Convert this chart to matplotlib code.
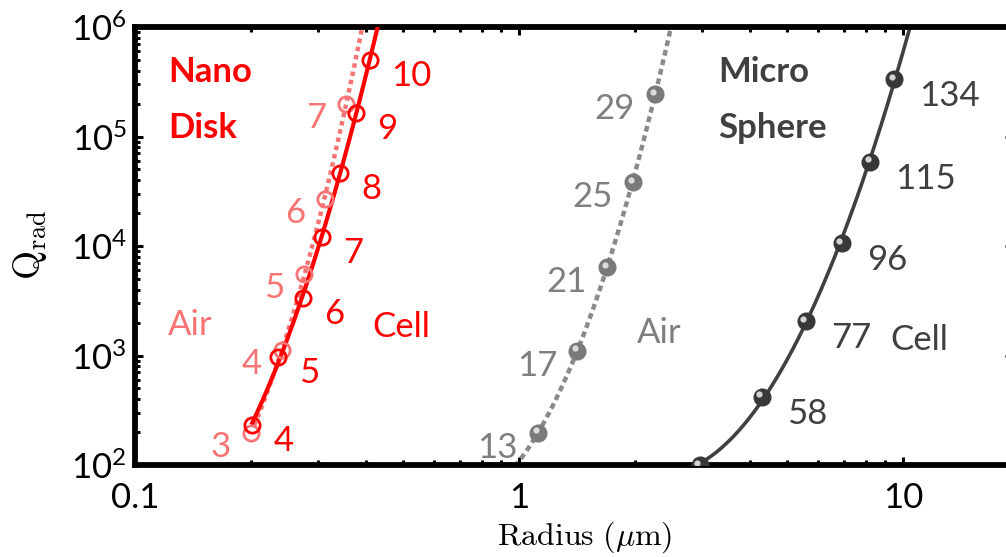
import numpy as np
import matplotlib
matplotlib.use('Agg')
import matplotlib.pyplot as plt
from matplotlib.ticker import LogLocator, FuncFormatter, NullFormatter
from matplotlib.transforms import offset_copy

plt.rcParams['font.family'] = ['Lato', 'DejaVu Sans']
plt.rcParams['mathtext.fontset'] = 'cm'

# Nano disk in cell (mode numbers 4..10)
disk_cell_modes = [4, 5, 6, 7, 8, 9, 10]
disk_cell_r = [0.202, 0.236, 0.274, 0.307, 0.342, 0.376, 0.409]
disk_cell_q = [232, 969, 3350, 12100, 46500, 164000, 500000]

# Nano disk in air (mode numbers 3..7)
disk_air_modes = [3, 4, 5, 6, 7]
disk_air_r = [0.2005, 0.2415, 0.2754, 0.3125, 0.3543]
disk_air_q = [196, 1120, 5550, 26900, 198000]

# Micro sphere in air
sph_air_modes = [13, 17, 21, 25, 29]
sph_air_r = [1.121, 1.416, 1.695, 1.981, 2.261]
sph_air_q = [196, 1100, 6430, 38400, 244000]

# Micro sphere in cell
sph_cell_modes = [39, 58, 77, 96, 115, 134]
sph_cell_r = [2.96, 4.293, 5.589, 6.936, 8.206, 9.476]
sph_cell_q = [100, 418, 2065, 10640, 58500, 335000]

RED = '#FF0000'
LRED = '#F87474'
GRAY = '#8a8a8a'
DARK = '#404040'


def fit_curve(r, q, x0, x1, deg=2):
    c = np.polyfit(np.log10(r), np.log10(q), deg)
    xx = np.logspace(np.log10(x0), np.log10(x1), 200)
    return xx, 10 ** np.polyval(c, np.log10(xx))


W = 878  # axes width in pixels, right spine falls just outside the picture
fig = plt.figure(figsize=(10.06, 5.57), dpi=100)
ax = fig.add_axes([135 / 1006, 1 - 465 / 557, W / 1006, 438 / 557])
ax.set_xscale('log')
ax.set_yscale('log')
ax.set_xlim(0.1, 10 ** (-1 + W / 384))
ax.set_ylim(1e2, 1e6)

# fitted curves
xx, yy = fit_curve(disk_air_r, disk_air_q, disk_air_r[0] * 1.02, 0.5)
ax.plot(xx, yy, color=LRED, lw=3.2, ls=(0, (1, 0.9)), zorder=2)
xx, yy = fit_curve(disk_cell_r, disk_cell_q, disk_cell_r[0], 0.5)
ax.plot(xx, yy, color=RED, lw=3, zorder=3)
xx, yy = fit_curve(sph_air_r, sph_air_q, 0.9, 3.0)
ax.plot(xx, yy, color=GRAY, lw=3.2, ls=(0, (1.3, 0.9)), zorder=2)
xx, yy = fit_curve(sph_cell_r, sph_cell_q, 2.5, 12)
ax.plot(xx, yy, color=DARK, lw=2.6, zorder=2)

# disk markers (open circles)
ax.plot(disk_air_r, disk_air_q, 'o', ms=11, mfc='none', mec=LRED, mew=2, zorder=4)
ax.plot(disk_cell_r, disk_cell_q, 'o', ms=11, mfc='none', mec=RED, mew=2, zorder=5)

# sphere markers (shaded balls)
hl = offset_copy(ax.transData, fig=fig, x=-2.5, y=2.5, units='dots')
for r, q, c in [(sph_air_r, sph_air_q, '#7a7a7a'), (sph_cell_r, sph_cell_q, '#383838')]:
    ax.plot(r, q, 'o', ms=12, mfc=c, mec=c, zorder=5)
    ax.plot(r, q, 'o', ms=4.5, mfc='#e6e6e6', mec='none', alpha=0.9, transform=hl, zorder=6)

fs = 25


def label_points(r, q, modes, dx, dy, ha, color):
    for x, y, m in zip(r, q, modes):
        ax.annotate(str(m), (x, y), xytext=(dx, dy), textcoords='offset pixels',
                    ha=ha, va='center', fontsize=fs, color=color, clip_on=True,
                    annotation_clip=False)


label_points(disk_cell_r, disk_cell_q, disk_cell_modes, 21, -16, 'left', RED)
label_points(disk_air_r, disk_air_q, disk_air_modes, -20, -14, 'right', LRED)
label_points(sph_air_r, sph_air_q, sph_air_modes, -20, -15, 'right', '#7f7f7f')
label_points(sph_cell_r, sph_cell_q, sph_cell_modes, 25, -17, 'left', DARK)

tr = ax.transAxes
ax.text(33 / W, 1 - 45 / 438, 'Nano', transform=tr, fontsize=fs, fontweight='bold', color=RED, va='center')
ax.text(33 / W, 1 - 101 / 438, 'Disk', transform=tr, fontsize=fs, fontweight='bold', color=RED, va='center')
ax.text(33 / W, 1 - 298 / 438, 'Air', transform=tr, fontsize=fs, color=LRED, va='center')
ax.text(237 / W, 1 - 300 / 438, 'Cell', transform=tr, fontsize=fs, color=RED, va='center')
ax.text(502 / W, 1 - 306 / 438, 'Air', transform=tr, fontsize=fs, color='#7f7f7f', va='center')
ax.text(583 / W, 1 - 45 / 438, 'Micro', transform=tr, fontsize=fs, fontweight='bold', color=DARK, va='center')
ax.text(583 / W, 1 - 101 / 438, 'Sphere', transform=tr, fontsize=fs, fontweight='bold', color=DARK, va='center')
ax.text(755 / W, 1 - 313 / 438, 'Cell', transform=tr, fontsize=fs, color=DARK, va='center')

# axes styling
for s in ax.spines.values():
    s.set_linewidth(4.2)
ax.yaxis.set_major_locator(LogLocator(base=10, numticks=10))
ax.yaxis.set_minor_locator(LogLocator(base=10, subs=np.arange(2, 10), numticks=10))
ax.yaxis.set_minor_formatter(NullFormatter())
ax.yaxis.set_major_formatter(FuncFormatter(lambda v, p: r'$\mathregular{10^{%d}}$' % round(np.log10(v))))
ax.xaxis.set_major_formatter(FuncFormatter(lambda v, p: '%g' % v))
ax.xaxis.set_minor_formatter(NullFormatter())
ax.tick_params(which='both', direction='in', top=True, right=True, width=2.2, labelsize=fs)
ax.tick_params(which='major', length=6)
ax.tick_params(which='minor', length=3.5)
ax.tick_params(axis='x', which='major', pad=12)
ax.tick_params(axis='y', which='major', pad=6)

ax.set_xlabel(r'$\mathrm{Radius\ (\mu m)}$', fontsize=23)
ax.xaxis.set_label_coords((585 - 135) / W, -(537 - 465) / 438, transform=tr)
ax.xaxis.label.set_va('center')
ax.set_ylabel(r'$\mathrm{Q}_{\mathrm{rad}}$', fontsize=27)
ax.yaxis.set_label_coords(-(135 - 30) / W, (465 - 245) / 438, transform=tr)
ax.yaxis.label.set_va('center')

fig.savefig('out.png', dpi=100)
